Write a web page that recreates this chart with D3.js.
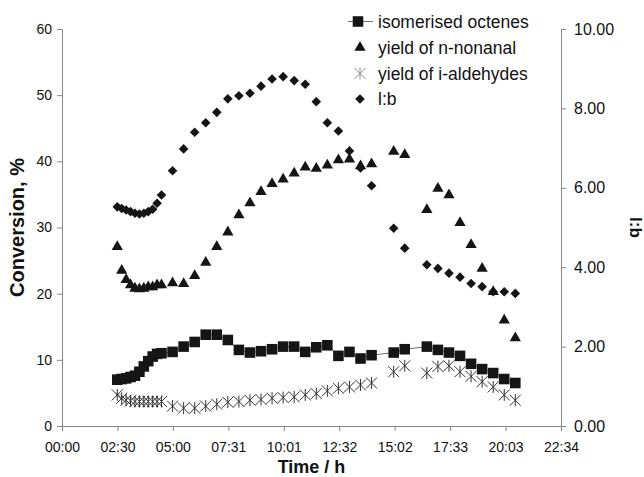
<!DOCTYPE html>
<html>
<head>
<meta charset="utf-8">
<script src="https://cdn.jsdelivr.net/npm/d3@7"></script>
<style>
  html, body { margin: 0; padding: 0; background: #fff; }
  svg { display: block; font-family: "Liberation Sans", Arial, sans-serif; }
</style>
</head>
<body>
<svg id="chart" width="644" height="477"></svg>
<script>
// ---- data (time in hours) ----
const times = [2.5, 2.7, 2.9, 3.1, 3.3, 3.5, 3.7, 3.9, 4.1, 4.3, 4.5,
  5.0, 5.5, 6.0, 6.5, 7.0, 7.5, 8.0, 8.5, 9.0, 9.5, 10.0, 10.5, 11.0, 11.5, 12.0, 12.5, 13.0, 13.5, 14.0,
  15.0, 15.5,
  16.5, 17.0, 17.5, 18.0, 18.5, 19.0, 19.5, 20.0, 20.5];
const isomerisedOctenes = [7.0, 7.1, 7.2, 7.4, 7.6, 8.2, 9.0, 9.8, 10.5, 10.9, 11.0,
  11.2, 12.0, 12.7, 13.8, 13.8, 13.0, 11.5, 11.1, 11.3, 11.6, 12.0, 12.0, 11.2, 11.9, 12.2, 10.6, 11.2, 10.2, 10.7,
  11.1, 11.6,
  12.0, 11.5, 11.1, 10.6, 9.4, 8.6, 8.0, 7.1, 6.5];
const yieldNNonanal = [27.1, 23.5, 22.1, 21.3, 20.8, 20.7, 20.8, 21.0, 21.0, 21.3, 21.3,
  21.6, 21.5, 22.7, 24.7, 27.1, 29.3, 31.9, 33.7, 35.4, 36.6, 37.3, 38.2, 39.1, 38.9, 39.4, 40.2, 40.3, 39.3, 39.6,
  41.5, 41.0,
  32.7, 35.9, 34.9, 30.7, 27.4, 23.8, 20.3, 16.0, 13.3];
const yieldIAldehydes = [4.7, 4.2, 3.9, 3.8, 3.7, 3.7, 3.7, 3.7, 3.7, 3.7, 3.7,
  3.0, 2.7, 2.7, 3.0, 3.3, 3.6, 3.7, 3.9, 4.0, 4.2, 4.3, 4.4, 4.7, 4.9, 5.3, 5.7, 5.9, 6.2, 6.5,
  8.2, 9.1,
  8.0, 9.0, 9.1, 8.2, 7.5, 6.7, 5.9, 4.7, 3.9];
const lbRatio = [5.52, 5.48, 5.44, 5.40, 5.36, 5.34, 5.36, 5.40, 5.46, 5.61, 5.82,
  6.43, 6.98, 7.40, 7.64, 7.90, 8.24, 8.32, 8.38, 8.56, 8.74, 8.80, 8.70, 8.61, 8.17, 7.64, 7.43, 6.93, 6.50, 6.05,
  4.98, 4.48,
  4.06, 3.97, 3.85, 3.75, 3.59, 3.51, 3.38, 3.38, 3.34];

const xTickLabels = ["00:00", "02:30", "05:00", "07:31", "10:01", "12:32", "15:02", "17:33", "20:03", "22:34"];
const leftTicks = [0, 10, 20, 30, 40, 50, 60];
const rightTicks = [0, 2, 4, 6, 8, 10];
const legendLabels = ["isomerised octenes", "yield of n-nonanal", "yield of i-aldehydes", "l:b"];

// ---- layout ----
const svg = d3.select("#chart");
const plot = { left: 62, right: 561, top: 29, bottom: 426 };
const xMax = 22 + 34 / 60;

const x = d3.scaleLinear().domain([0, xMax]).range([plot.left, plot.right]);
const yL = d3.scaleLinear().domain([0, 60]).range([plot.bottom, plot.top]);
const yR = d3.scaleLinear().domain([0, 10]).range([plot.bottom, plot.top]);

const axisColor = "#868686";
const textColor = "#111";

function styleAxis(g, fontSize) {
  g.select(".domain").attr("stroke", axisColor);
  g.selectAll(".tick line").attr("stroke", axisColor);
  g.selectAll(".tick text").attr("fill", textColor).style("font-size", fontSize + "px")
    .style("font-family", "'Liberation Sans', Arial, sans-serif");
}

const xTickVals = xTickLabels.map((d, i) => i * xMax / (xTickLabels.length - 1));
const gx = svg.append("g").attr("transform", `translate(0,${plot.bottom})`)
  .call(d3.axisBottom(x).tickValues(xTickVals).tickFormat((d, i) => xTickLabels[i]).tickSize(5).tickSizeOuter(0).tickPadding(11));
styleAxis(gx, 14);

const gl = svg.append("g").attr("transform", `translate(${plot.left},0)`)
  .call(d3.axisLeft(yL).tickValues(leftTicks).tickFormat(d3.format("d")).tickSize(5).tickSizeOuter(0).tickPadding(5));
styleAxis(gl, 14);

const gr = svg.append("g").attr("transform", `translate(${plot.right},0)`)
  .call(d3.axisRight(yR).tickValues(rightTicks).tickFormat(d3.format(".2f")).tickSize(5).tickSizeOuter(0).tickPadding(8));
styleAxis(gr, 16);

// axis titles
svg.append("text").attr("x", (plot.left + plot.right) / 2).attr("y", 473)
  .attr("text-anchor", "middle").attr("font-weight", "bold").attr("font-size", 18).attr("fill", textColor)
  .text("Time / h");
svg.append("text").attr("transform", `translate(24,${(plot.top + plot.bottom) / 2}) rotate(-90)`)
  .attr("text-anchor", "middle").attr("font-weight", "bold").attr("font-size", 20).attr("fill", textColor)
  .text("Conversion, %");
svg.append("text").attr("transform", `translate(630,${(plot.top + plot.bottom) / 2}) rotate(90)`)
  .attr("text-anchor", "middle").attr("font-weight", "bold").attr("font-size", 17).attr("fill", textColor)
  .text("l:b");

// ---- marker shapes ----
const markFill = "#151515";
const squarePath = d3.symbol().type(d3.symbolSquare).size(112)();
const trianglePath = d3.symbol().type(d3.symbolTriangle).size(55)();
const diamondPath = d3.symbol().type(d3.symbolSquare).size(46)();
const starPath = "M-5.5,-5.5L5.5,5.5M-5.5,5.5L5.5,-5.5M0,-6L0,6";

const data = times.map((t, i) => ({
  t, oct: isomerisedOctenes[i], non: yieldNNonanal[i], iald: yieldIAldehydes[i], lb: lbRatio[i]
}));

// line through octenes
svg.append("path").datum(data)
  .attr("fill", "none").attr("stroke", "#6e6e6e").attr("stroke-width", 1)
  .attr("d", d3.line().x(d => x(d.t)).y(d => yL(d.oct)));

// i-aldehydes stars
svg.append("g").selectAll("path").data(data).join("path")
  .attr("transform", d => `translate(${x(d.t)},${yL(d.iald)})`)
  .attr("d", starPath).attr("fill", "none").attr("stroke", "#333").attr("stroke-width", 1);

// octenes squares
svg.append("g").selectAll("path").data(data).join("path")
  .attr("transform", d => `translate(${x(d.t)},${yL(d.oct)})`)
  .attr("d", squarePath).attr("fill", markFill);

// n-nonanal triangles
svg.append("g").selectAll("path").data(data).join("path")
  .attr("transform", d => `translate(${x(d.t)},${yL(d.non)})`)
  .attr("d", trianglePath).attr("fill", markFill);

// l:b diamonds (right axis)
svg.append("g").selectAll("path").data(data).join("path")
  .attr("transform", d => `translate(${x(d.t)},${yR(d.lb)}) rotate(45)`)
  .attr("d", diamondPath).attr("fill", markFill);

// ---- legend ----
const legY = [21.5, 47.5, 73.5, 99];
const legX = 360;
const lg = svg.append("g");
lg.append("line").attr("x1", legX - 12).attr("x2", legX + 13).attr("y1", legY[0]).attr("y2", legY[0])
  .attr("stroke", "#6e6e6e").attr("stroke-width", 1);
lg.append("path").attr("transform", `translate(${legX - 2},${legY[0]})`).attr("d", squarePath).attr("fill", markFill);
lg.append("path").attr("transform", `translate(${legX},${legY[1]})`).attr("d", trianglePath).attr("fill", markFill);
lg.append("path").attr("transform", `translate(${legX},${legY[2]})`).attr("d", starPath)
  .attr("fill", "none").attr("stroke", "#8a8a8a").attr("stroke-width", 1);
lg.append("path").attr("transform", `translate(${legX},${legY[3]}) rotate(45)`).attr("d", diamondPath).attr("fill", markFill);
lg.selectAll("text").data(legendLabels).join("text")
  .attr("x", 378).attr("y", (d, i) => legY[i]).attr("dy", "0.35em")
  .attr("font-size", 17.5).attr("fill", textColor).text(d => d);
</script>
</body>
</html>
